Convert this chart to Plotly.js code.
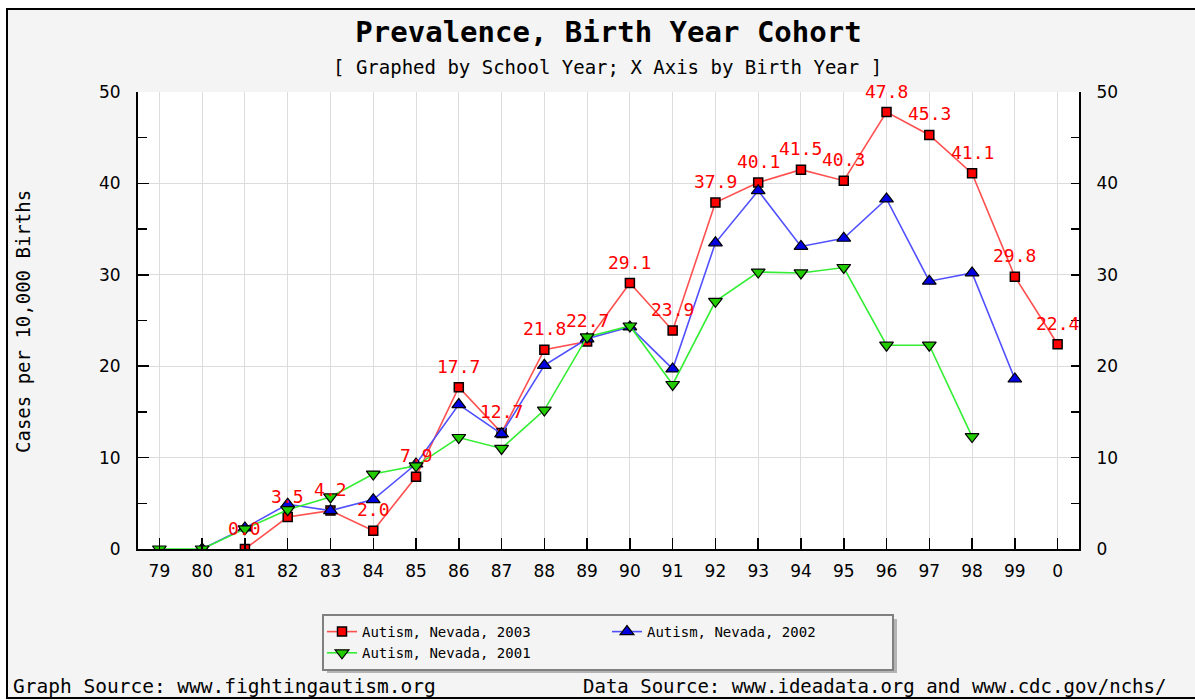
<!DOCTYPE html>
<html><head><meta charset="utf-8">
<script src="https://cdn.plot.ly/plotly-3.0.1.min.js"></script>
<style>html,body{margin:0;padding:0;background:#fff;overflow:hidden}</style>
</head><body><div id="chart" style="width:1195px;height:700px"></div>
<script>
// ---- data ----
const birthYears = ['79','80','81','82','83','84','85','86','87','88','89','90','91','92','93','94','95','96','97','98','99','0'];
const nevada2003 = [null,null,0.0,3.5,4.2,2.0,7.9,17.7,12.7,21.8,22.7,29.1,23.9,37.9,40.1,41.5,40.3,47.8,45.3,41.1,29.8,22.4];
const nevada2002 = [null,0,2.3,4.9,4.2,5.4,9.3,15.8,12.6,20.1,23.0,24.3,19.7,33.5,39.2,33.1,34.0,38.3,29.3,30.2,18.6,null];
const nevada2001 = [0,0,2.2,4.3,5.7,8.2,9.1,12.2,11.0,15.2,23.2,24.4,18.0,27.1,30.3,30.2,30.8,22.3,22.3,12.3,null,null];
const seriesNames = ['Autism, Nevada, 2003','Autism, Nevada, 2002','Autism, Nevada, 2001'];
const titleText = 'Prevalence, Birth Year Cohort';
const subtitleText = '[ Graphed by School Year; X Axis by Birth Year ]';
const yTitleText = 'Cases per 10,000 Births';
const graphSource = 'Graph Source: www.fightingautism.org';
const dataSource = 'Data Source: www.ideadata.org and www.cdc.gov/nchs/';

// ---- layout helpers (pixel -> paper) ----
const M = {l:138, r:116, t:92, b:151};
const W = 1195, H = 700;
const PW = W - M.l - M.r, PH = H - M.t - M.b;
const px = v => (v - M.l) / PW;
const py = v => (H - M.b - v) / PH;
const MONO = 'DejaVu Sans Mono';

const traces = [
  {x: birthYears, y: nevada2003, name: seriesNames[0], type:'scatter', mode:'lines+markers',
   legendgroup:'a', line:{color:'#ff5050', width:1.6},
   marker:{symbol:'square', size:9, color:'#ff0000', line:{color:'#000', width:1.5}}},
  {x: birthYears, y: nevada2002, name: seriesNames[1], type:'scatter', mode:'lines+markers',
   legendgroup:'b', line:{color:'#5050ff', width:1.6},
   marker:{symbol:'triangle-up', size:12, color:'#0000e0', line:{color:'#000', width:1.2}}},
  {x: birthYears, y: nevada2001, name: seriesNames[2], type:'scatter', mode:'lines+markers',
   legendgroup:'a', yaxis:'y2', line:{color:'#33ee33', width:1.6},
   marker:{symbol:'triangle-down', size:12, color:'#22cc00', line:{color:'#000', width:1.2}}}
];

const annotations = [];
birthYears.forEach((yr, i) => {
  const v = nevada2003[i];
  if (v === null) return;
  annotations.push({x: i, y: v, xref:'x', yref:'y', text: v.toFixed(1), showarrow:false,
    xanchor:'center', yanchor:'middle', yshift: 21, font:{family: MONO, size:18, color:'#ff0000'}});
});
annotations.push(
  {xref:'paper', yref:'paper', x: px(607), y: py(67), xanchor:'center', yanchor:'middle', text: subtitleText, showarrow:false,
   font:{family: MONO, size:19, color:'#000'}},
  {xref:'paper', yref:'paper', x: px(23), y: py(322), xanchor:'center', yanchor:'middle', text: yTitleText, textangle:-90, showarrow:false,
   font:{family: MONO, size:19, color:'#000'}},
  {xref:'paper', yref:'paper', x: px(11), y: py(686), xanchor:'left', yanchor:'middle', text: graphSource, showarrow:false,
   font:{family: MONO, size:19.5, color:'#000'}},
  {xref:'paper', yref:'paper', x: px(581), y: py(686), xanchor:'left', yanchor:'middle', text: dataSource, showarrow:false,
   font:{family: MONO, size:19, color:'#000'}}
);

const shapes = [
  {type:'rect', xref:'paper', yref:'paper', x0:px(-10), x1:px(6), y0:py(720), y1:py(-10), fillcolor:'#fff', line:{width:0}},
  {type:'rect', xref:'paper', yref:'paper', x0:px(-10), x1:px(1210), y0:py(8), y1:py(-10), fillcolor:'#fff', line:{width:0}},
  {type:'rect', xref:'paper', yref:'paper', x0:px(7), x1:px(1210), y0:py(698), y1:py(9), line:{color:'#000', width:2}},
  // legend drop shadow
  {type:'rect', xref:'paper', yref:'paper', x0:px(327), x1:px(897), y0:py(673), y1:py(619), fillcolor:'#b4b4b4', line:{width:0}}
];

const axisTickFont = {family:'DejaVu Sans', size:17, color:'#000'};
const layout = {
  width: W, height: H,
  margin: M,
  paper_bgcolor:'#f4f4f4', plot_bgcolor:'#ffffff',
  title: {text: titleText, x: 0.5, xref:'paper', y: 1 - 32/H, yref:'container', yanchor:'middle',
          font:{family: MONO, size:29, color:'#000', weight:'bold'}},
  xaxis: {type:'category', range:[-0.5, birthYears.length - 0.5], showgrid:true, gridcolor:'#dcdcdc', gridwidth:1,
          showline:true, linecolor:'#000', linewidth:2, ticks:'inside', ticklen:11, tickcolor:'#000', tickwidth:1.5,
          ticklabelstandoff: 6, tickfont: axisTickFont, zeroline:false, fixedrange:true},
  yaxis: {range:[0,50], dtick:10, showgrid:true, gridcolor:'#dcdcdc', gridwidth:1, zeroline:false,
          showline:true, linecolor:'#000', linewidth:2, ticks:'inside', ticklen:11, tickcolor:'#000', tickwidth:1.5,
          minor:{dtick:5, ticks:'inside', ticklen:9, tickcolor:'#000', showgrid:false},
          ticklabelstandoff: 12, tickfont: axisTickFont},
  yaxis2: {range:[0,50], dtick:10, overlaying:'y', side:'right', showgrid:false, zeroline:false,
          showline:true, linecolor:'#000', linewidth:2, ticks:'inside', ticklen:8, tickcolor:'#000', tickwidth:1.5,
          minor:{dtick:5, ticks:'inside', ticklen:8, tickcolor:'#000', showgrid:false},
          ticklabelstandoff: 12, tickfont: axisTickFont},
  legend: {orientation:'h', traceorder:'grouped', x: px(322), y: py(614), xanchor:'left', yanchor:'top',
           bgcolor:'#f4f4f4', bordercolor:'#808080', borderwidth:2, entrywidth:240, tracegroupgap:0,
           font:{family: MONO, size:14, color:'#000'}},
  showlegend: true,
  annotations: annotations,
  shapes: shapes
};

Plotly.newPlot('chart', traces, layout, {staticPlot:true});
</script>
</body></html>
